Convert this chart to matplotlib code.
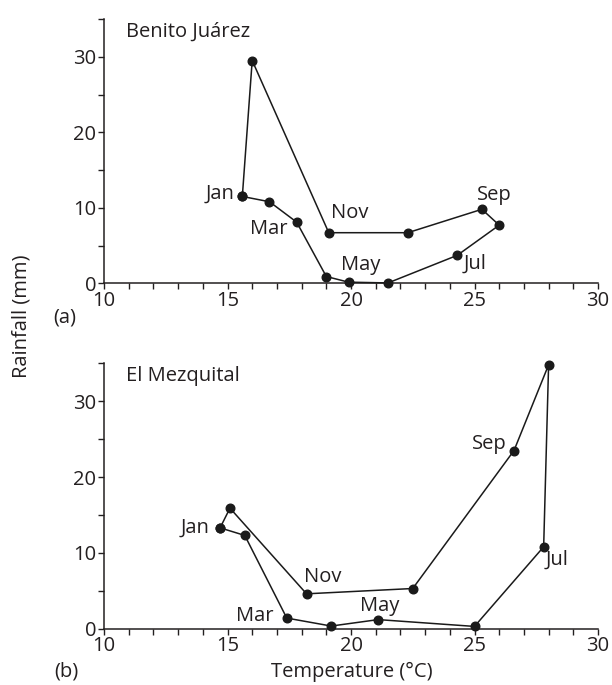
import numpy as np
import matplotlib
matplotlib.use("Agg")
import matplotlib.pyplot as plt
from matplotlib.ticker import MultipleLocator

plt.rcParams['font.family'] = ['Open Sans', 'DejaVu Sans']

months = ["Jan", "Feb", "Mar", "Apr", "May", "Jun",
          "Jul", "Aug", "Sep", "Oct", "Nov", "Dec"]

# Benito Juárez
bj_temp = [15.6, 16.7, 17.8, 19.0, 19.9, 21.5, 24.3, 26.0, 25.3, 22.3, 19.1, 16.0]
bj_rain = [11.5, 10.8, 8.1, 0.9, 0.15, 0.05, 3.7, 7.7, 9.8, 6.7, 6.7, 29.5]

# El Mezquital
em_temp = [14.7, 15.7, 17.4, 19.2, 21.1, 25.0, 27.8, 28.0, 26.6, 22.5, 18.2, 15.1]
em_rain = [13.3, 12.3, 1.4, 0.35, 1.2, 0.3, 10.8, 34.8, 23.5, 5.3, 4.6, 15.9]

# label placement: month -> (dx px, dy px, ha)
bj_labels = {"Jan": (-8, 3, "right"), "Mar": (-9, -7, "right"),
             "May": (-8, 17, "left"), "Jul": (6, -8, "left"),
             "Sep": (-5, 14, "left"), "Nov": (2, 20, "left")}
em_labels = {"Jan": (-11, 0, "right"), "Mar": (-13, 2, "right"),
             "May": (2, 14, "center"), "Jul": (2, -13, "left"),
             "Sep": (-7, 7, "right"), "Nov": (-3, 17, "left")}

W, H = 612, 685
fig = plt.figure(figsize=(W / 100, H / 100), dpi=100)
ax1 = fig.add_axes([104 / W, 1 - 283.3 / H, 494 / W, 264.3 / H])
ax2 = fig.add_axes([104 / W, 1 - 628.7 / H, 494 / W, 265.4 / H])

fs = 14.5


def panel(ax, t, r, name, labels):
    t = list(t) + [t[0]]
    r = list(r) + [r[0]]
    ax.plot(t, r, color="#1a1a1a", lw=1.1, marker="o", ms=6.2,
            mfc="#1a1a1a", mec="#1a1a1a", clip_on=False, zorder=3)
    for m, (dx, dy, ha) in labels.items():
        i = months.index(m)
        ax.annotate(m, (t[i], r[i]), xytext=(dx, dy), textcoords="offset pixels",
                    ha=ha, va="center", fontsize=fs, color="#231f20")
    ax.set_xlim(10, 30)
    ax.set_ylim(0, 35)
    ax.xaxis.set_major_locator(MultipleLocator(5))
    ax.xaxis.set_minor_locator(MultipleLocator(1))
    ax.yaxis.set_major_locator(MultipleLocator(10))
    ax.yaxis.set_minor_locator(MultipleLocator(5))
    ax.spines["top"].set_visible(False)
    ax.spines["right"].set_visible(False)
    for s in ("left", "bottom"):
        ax.spines[s].set_linewidth(1.1)
        ax.spines[s].set_color("#231f20")
    ax.tick_params(which="both", direction="out", length=4, width=1,
                   color="#231f20", labelsize=fs, labelcolor="#231f20", pad=1.5)
    ax.text(0.045, 0.99, name, transform=ax.transAxes, ha="left", va="top",
            fontsize=fs, color="#231f20")


panel(ax1, bj_temp, bj_rain, "Benito Juárez", bj_labels)
panel(ax2, em_temp, em_rain, "El Mezquital", em_labels)

fig.text(22 / W, 1 - 316 / H, "Rainfall (mm)", rotation=90, ha="center",
         va="center", fontsize=fs, color="#231f20")
fig.text(352 / W, 1 - 672 / H, "Temperature (°C)", ha="center", va="center",
         fontsize=fs, color="#231f20")
fig.text(65 / W, 1 - 317 / H, "(a)", ha="center", va="center",
         fontsize=fs, color="#231f20")
fig.text(66 / W, 1 - 672 / H, "(b)", ha="center", va="center",
         fontsize=fs, color="#231f20")

fig.savefig("out.png", dpi=100)
